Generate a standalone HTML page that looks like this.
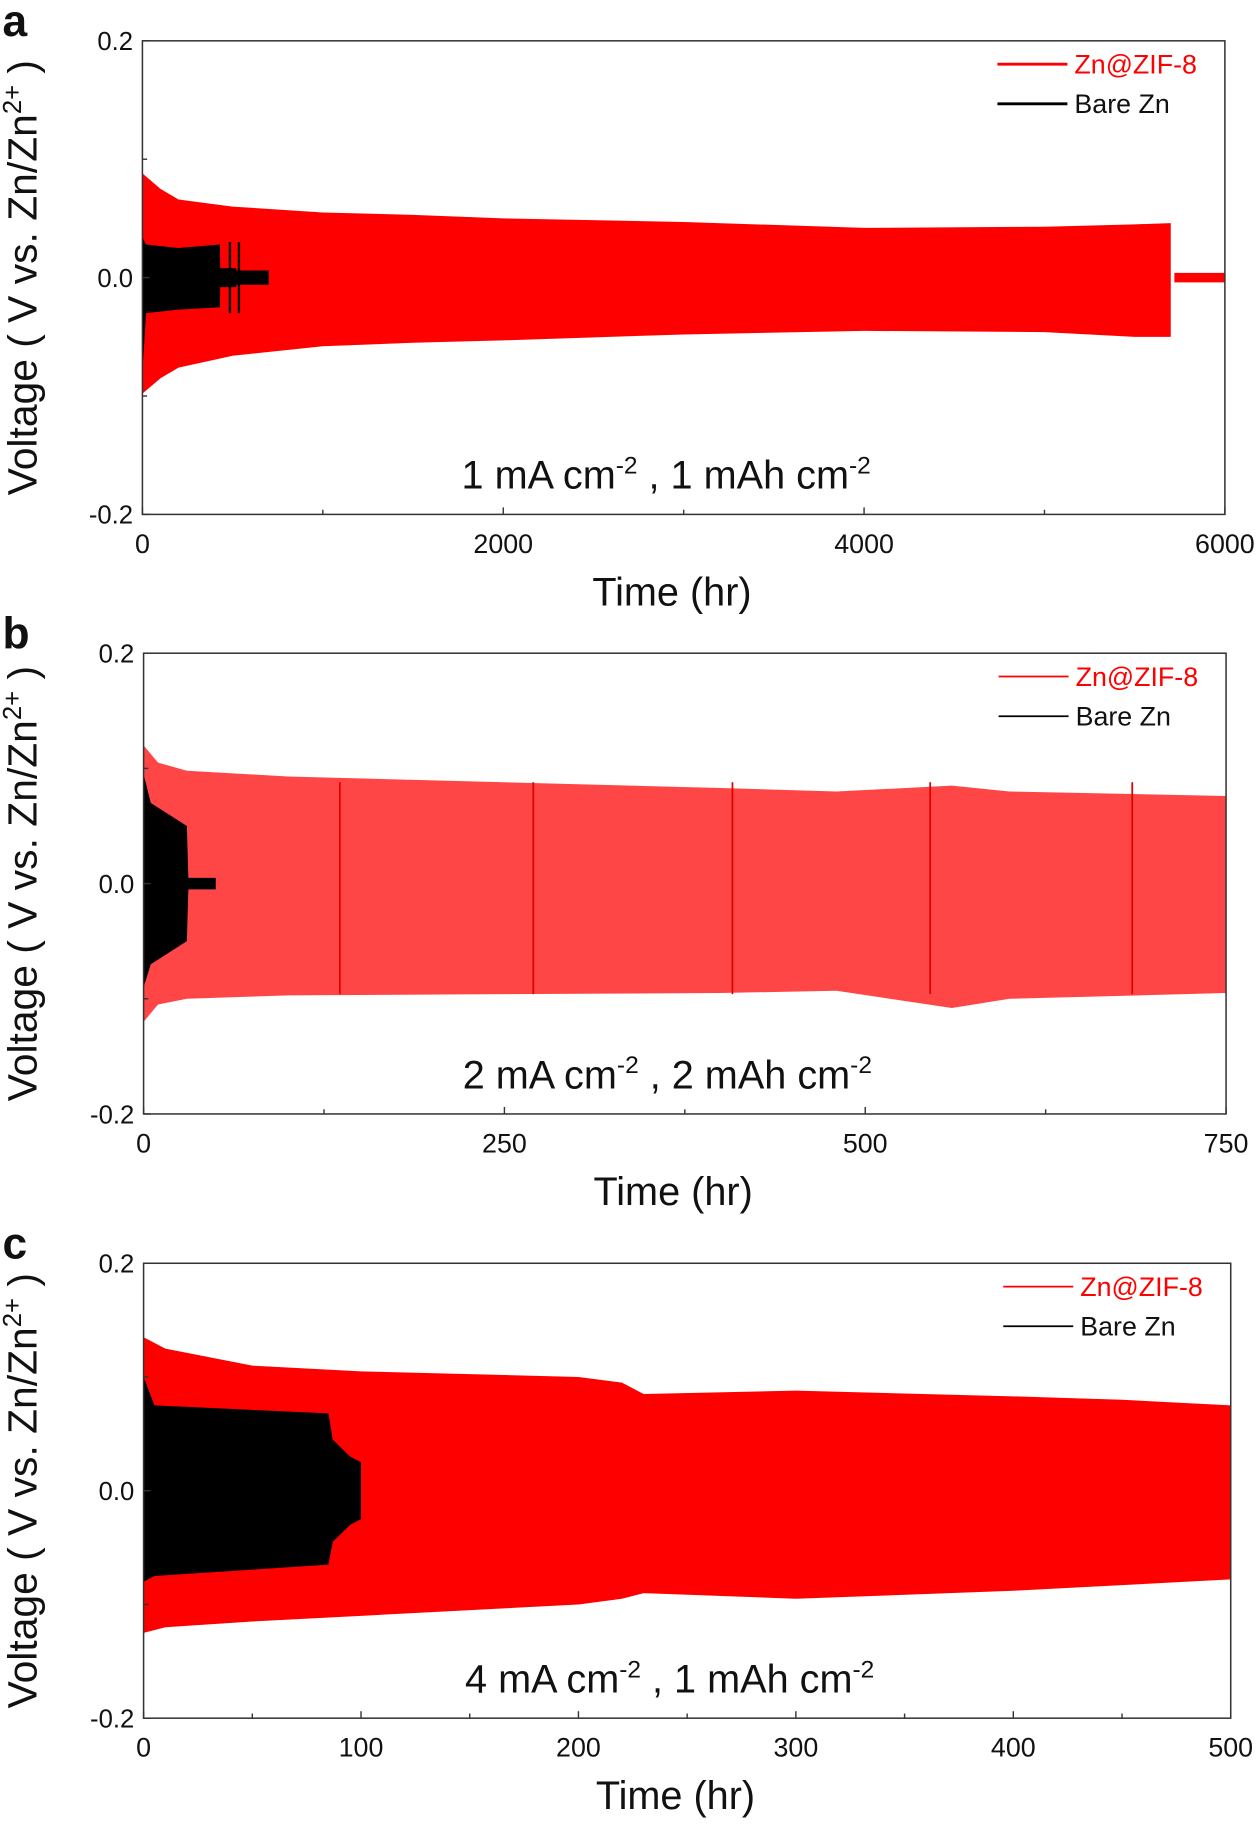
<!DOCTYPE html>
<html><head><meta charset="utf-8"><style>
html,body{margin:0;padding:0;background:#fff;}
svg{display:block;font-family:"Liberation Sans",Arial,sans-serif;}
</style></head><body>
<svg id="fig" width="1260" height="1829" viewBox="0 0 1080 1568" xmlns="http://www.w3.org/2000/svg"></svg>
<script>
// ---- Panel a data ----
const aRedT=[0,100,200,500,1000,1500,2000,3000,4000,5000,5500,5700];
const aRedUp=[0.088,0.075,0.066,0.06,0.055,0.053,0.05,0.047,0.042,0.043,0.045,0.046];
const aRedLo=[-0.098,-0.085,-0.076,-0.066,-0.058,-0.055,-0.053,-0.048,-0.045,-0.046,-0.05,-0.05];
const aTailT=[5720,6000];const aTailUp=[0.004,0.004];const aTailLo=[-0.004,-0.004];
const aBlkT=[0,20,200,430,431,520,521,700];
const aBlkUp=[0.034,0.028,0.025,0.028,0.008,0.008,0.006,0.006];
const aBlkLo=[-0.08,-0.03,-0.027,-0.025,-0.008,-0.008,-0.006,-0.006];
const aBlkSpikes=[485,535];
const aXTicks=[0,2000,4000,6000];
// ---- Panel b data ----
const bRedT=[0,10,30,100,250,400,480,560,600,750];
const bRedUp=[0.12,0.105,0.098,0.093,0.088,0.083,0.08,0.085,0.08,0.076];
const bRedLo=[-0.12,-0.105,-0.1,-0.097,-0.096,-0.095,-0.093,-0.108,-0.1,-0.095];
const bSpikes=[136,270,408,545,685];
const bBlkT=[0,5,30,31,50];
const bBlkUp=[0.095,0.07,0.05,0.005,0.005];
const bBlkLo=[-0.09,-0.07,-0.05,-0.005,-0.005];
const bXTicks=[0,250,500,750];
// ---- Panel c data ----
const cRedT=[0,10,50,100,200,220,230,300,400,450,500];
const cRedUp=[0.135,0.125,0.11,0.105,0.1,0.095,0.085,0.088,0.083,0.08,0.075];
const cRedLo=[-0.125,-0.12,-0.115,-0.11,-0.1,-0.095,-0.09,-0.095,-0.088,-0.083,-0.078];
const cBlkT=[0,5,85,87,95,100];
const cBlkUp=[0.1,0.075,0.068,0.045,0.03,0.025];
const cBlkLo=[-0.08,-0.075,-0.065,-0.045,-0.03,-0.025];
const cXTicks=[0,100,200,300,400,500];
const yTicks=[0.2,0.0,-0.2];

const NS="http://www.w3.org/2000/svg";
const svg=document.getElementById('fig');
function mk(tag,attrs,parent){const e=document.createElementNS(NS,tag);for(const k in attrs)e.setAttribute(k,attrs[k]);(parent||svg).appendChild(e);return e;}
function band(g,T,U,L,xs,ys,color,name){
  let p=[];for(let i=0;i<T.length;i++)p.push(xs(T[i])+','+ys(U[i]));
  for(let i=T.length-1;i>=0;i--)p.push(xs(T[i])+','+ys(L[i]));
  const e=mk('polygon',{points:p.join(' '),fill:color},g);
  
  
  return e;
}
function panel(o){
  const g=mk('g',{});
  
  
  const xs=v=>o.x0+(v-o.xmin)/(o.xmax-o.xmin)*(o.x1-o.x0);
  const ys=v=>o.y1-(v+0.2)/0.4*(o.y1-o.y0);
  band(g,o.rT,o.rU,o.rL,xs,ys,o.red,'zn-zif8-series');
  if(o.tail)band(g,o.tail[0],o.tail[1],o.tail[2],xs,ys,o.red,'zn-zif8-tail');
  if(o.spikes)o.spikes.forEach(s=>{const e=mk('line',{x1:xs(s),x2:xs(s),y1:ys(0.088),y2:ys(-0.096),stroke:'#e00000','stroke-width':1.5},g);
    });
  band(g,o.bT,o.bU,o.bL,xs,ys,'#000','bare-zn-series');
  if(o.bSp)o.bSp.forEach(s=>{const e=mk('line',{x1:xs(s),x2:xs(s),y1:ys(0.03),y2:ys(-0.03),stroke:'#000','stroke-width':2},g);
    });
  const f=mk('rect',{x:o.x0,y:o.y0,width:o.x1-o.x0,height:o.y1-o.y0,fill:'none',stroke:'#333','stroke-width':1.3},g);
  
  const step=o.xt[1]-o.xt[0];
  for(let v=o.xmin;v<=o.xmax+1e-9;v+=step/2){const major=o.xt.some(t=>Math.abs(t-v)<1e-6);
    mk('line',{x1:xs(v),x2:xs(v),y1:o.y1,y2:o.y1-(major?6:4),stroke:'#333','stroke-width':1.2},g);}
  o.xt.forEach(v=>{const t=mk('text',{x:xs(v),y:o.y1+33,'font-size':23,'text-anchor':'middle',fill:'#111'},g);t.textContent=v;
    });
  [0.2,0.1,0,-0.1,-0.2].forEach(v=>mk('line',{x1:o.x0,x2:o.x0+(Math.abs(v)==0.1?4:6),y1:ys(v),y2:ys(v),stroke:'#333','stroke-width':1.2},g));
  yTicks.forEach(v=>{const t=mk('text',{x:o.x0-8,y:ys(v)+8,'font-size':22,'text-anchor':'end',fill:'#111'},g);t.textContent=v.toFixed(1);
    });
  const xt=mk('text',{x:(o.x0+o.x1)/2-10,y:o.y1+78,'font-size':34,'text-anchor':'middle',fill:'#111'},g);xt.textContent='Time (hr)';
  
  const cy=(o.y0+o.y1)/2;
  const yt=mk('text',{x:0,y:0,'font-size':35,'text-anchor':'middle',fill:'#111',transform:`translate(31,${cy}) rotate(-90)`},g);
  yt.innerHTML='Voltage ( V vs. Zn/Zn<tspan dy="-13" font-size="22">2+</tspan><tspan dy="13"> )</tspan>';
  
  const pl=mk('text',{x:2,y:o.y0-4,'font-size':38,'font-weight':'bold',fill:'#111'},g);pl.textContent=o.id;
  
  const cl=mk('text',{x:(o.x0+o.x1)/2-15,y:o.y1-22,'font-size':34,'text-anchor':'middle',fill:'#111'},g);
  cl.innerHTML=o.cond[0]+' mA cm<tspan dy="-13" font-size="21">-2</tspan><tspan dy="13"> , '+o.cond[1]+' mAh cm</tspan><tspan dy="-13" font-size="21">-2</tspan>';
  
  const lg=mk('g',{},g);
  const lx=o.x1-195, ly=o.y0+20;
  mk('line',{x1:lx,x2:lx+60,y1:ly,y2:ly,stroke:'#f00','stroke-width':o.lw},lg);
  const l1=mk('text',{x:lx+66,y:ly+8,'font-size':23,fill:'#f00'},lg);l1.textContent='Zn@ZIF-8';
  
  mk('line',{x1:lx,x2:lx+60,y1:ly+34,y2:ly+34,stroke:'#000','stroke-width':o.lw},lg);
  const l2=mk('text',{x:lx+66,y:ly+42,'font-size':23,fill:'#111'},lg);l2.textContent='Bare Zn';
  
}
panel({id:'a',x0:122,x1:1050,y0:35,y1:441,xmin:0,xmax:6000,xt:aXTicks,rT:aRedT,rU:aRedUp,rL:aRedLo,tail:[aTailT,aTailUp,aTailLo],bT:aBlkT,bU:aBlkUp,bL:aBlkLo,bSp:aBlkSpikes,red:'#ff0000',cond:['1','1'],lw:2.5});
panel({id:'b',x0:123,x1:1051,y0:560,y1:955,xmin:0,xmax:750,xt:bXTicks,rT:bRedT,rU:bRedUp,rL:bRedLo,spikes:bSpikes,bT:bBlkT,bU:bBlkUp,bL:bBlkLo,red:'#ff4646',cond:['2','2'],lw:1.5});
panel({id:'c',x0:123,x1:1055,y0:1083,y1:1473,xmin:0,xmax:500,xt:cXTicks,rT:cRedT,rU:cRedUp,rL:cRedLo,bT:cBlkT,bU:cBlkUp,bL:cBlkLo,red:'#ff0000',cond:['4','1'],lw:1.5});
</script>
</body></html>
